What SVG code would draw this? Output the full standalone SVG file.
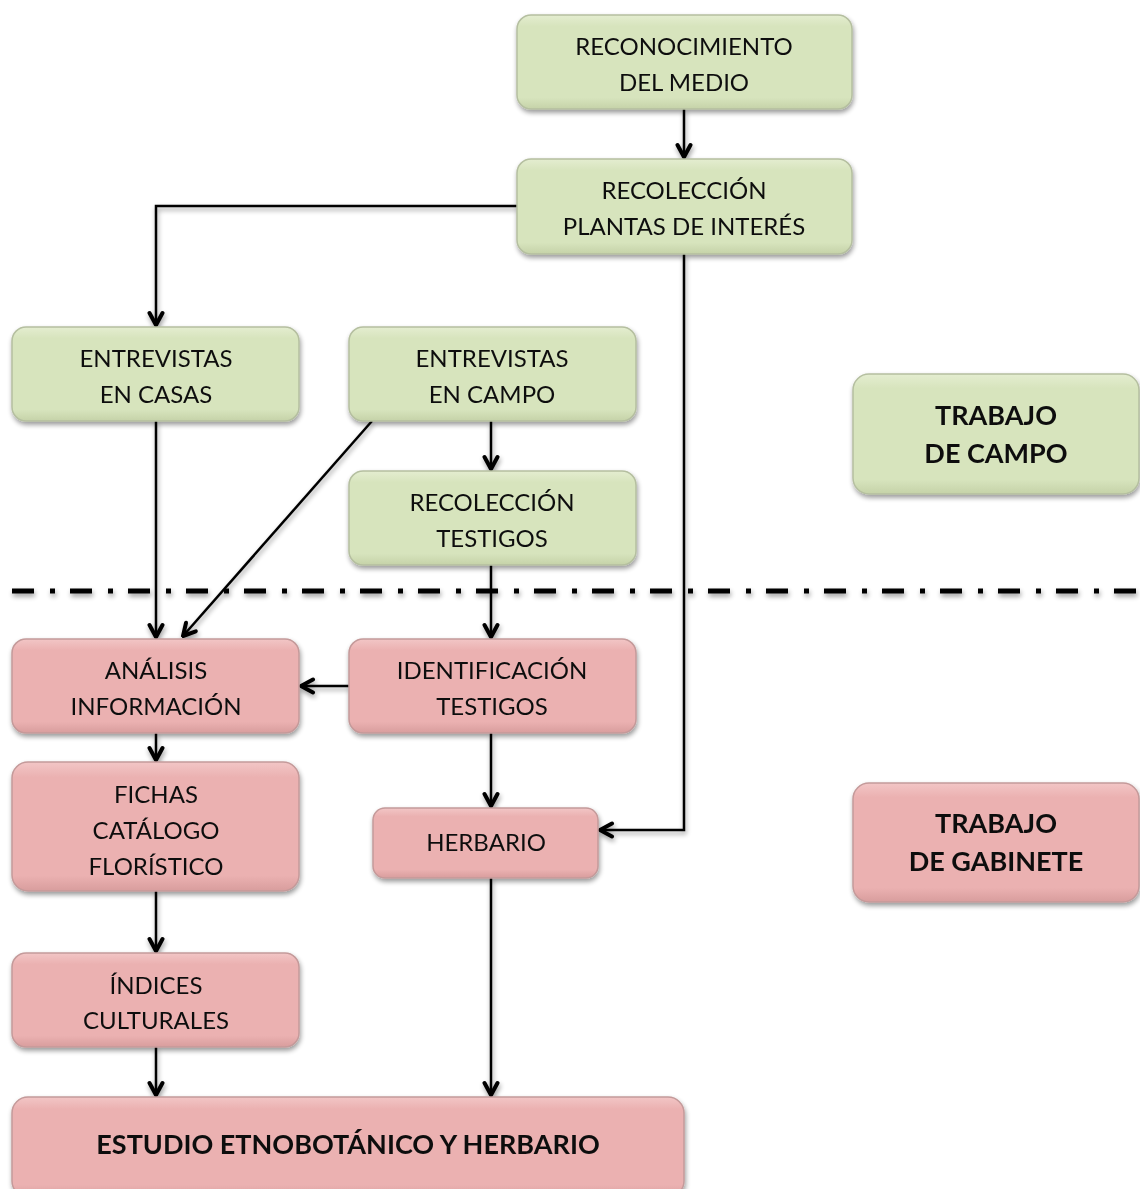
<svg xmlns="http://www.w3.org/2000/svg" width="1140" height="1189" viewBox="0 0 1140 1189">
<defs>
<style>
.g{fill:url(#gg);stroke:#b5bfa0;stroke-width:1.5}
.p{fill:url(#pg);stroke:#c49a9a;stroke-width:1.5}
text{font-family:"Lato","Liberation Sans",sans-serif;font-size:24px;fill:#111;text-anchor:middle}
.b{font-weight:bold;font-size:27px}
.c{fill:none;stroke:#000;stroke-width:2.5}
</style>
<linearGradient id="gg" x1="0" y1="0" x2="0" y2="1">
<stop offset="0" stop-color="#e4edd0"/><stop offset="0.12" stop-color="#d7e4bd"/><stop offset="0.88" stop-color="#d7e4bd"/><stop offset="1" stop-color="#c5d2a8"/>
</linearGradient>
<linearGradient id="pg" x1="0" y1="0" x2="0" y2="1">
<stop offset="0" stop-color="#f2c6c6"/><stop offset="0.12" stop-color="#ebb1b1"/><stop offset="0.88" stop-color="#ebb1b1"/><stop offset="1" stop-color="#d89d9d"/>
</linearGradient>
<filter id="sh" x="-10%" y="-10%" width="120%" height="130%">
<feGaussianBlur in="SourceAlpha" stdDeviation="2.5"/>
<feOffset dx="1" dy="3" result="o"/>
<feComponentTransfer><feFuncA type="linear" slope="0.4"/></feComponentTransfer>
<feMerge><feMergeNode/><feMergeNode in="SourceGraphic"/></feMerge>
</filter>
<marker id="a" viewBox="0 0 18 18" refX="16" refY="9" markerWidth="18" markerHeight="18" markerUnits="userSpaceOnUse" orient="auto">
<path d="M4,2.5 L16,9 L4,15.5" fill="none" stroke="#000" stroke-width="4" stroke-linecap="round" stroke-linejoin="round"/>
</marker>
</defs>
<rect width="1140" height="1189" fill="#fff"/>
<g id="connectors" filter="url(#sh)">
<line class="c" x1="684" y1="109" x2="684" y2="157" marker-end="url(#a)"/>
<polyline class="c" points="517,206 156,206 156,325" marker-end="url(#a)"/>
<polyline class="c" points="684,254 684,830 600,830" marker-end="url(#a)"/>
<line class="c" x1="156" y1="421" x2="156" y2="637" marker-end="url(#a)"/>
<line class="c" x1="372" y1="421" x2="183" y2="636" marker-end="url(#a)"/>
<line class="c" x1="491" y1="421" x2="491" y2="469" marker-end="url(#a)"/>
<line class="c" x1="491" y1="565" x2="491" y2="637" marker-end="url(#a)"/>
<line class="c" x1="349" y1="686" x2="301" y2="686" marker-end="url(#a)"/>
<line class="c" x1="156" y1="733" x2="156" y2="760" marker-end="url(#a)"/>
<line class="c" x1="491" y1="733" x2="491" y2="806" marker-end="url(#a)"/>
<line class="c" x1="156" y1="891" x2="156" y2="951" marker-end="url(#a)"/>
<line class="c" x1="156" y1="1047" x2="156" y2="1095" marker-end="url(#a)"/>
<line class="c" x1="491" y1="878" x2="491" y2="1095" marker-end="url(#a)"/>
<line x1="12" y1="591" x2="1140" y2="591" stroke="#000" stroke-width="5" stroke-dasharray="22 16 5 15"/>
</g>
<g id="n1" filter="url(#sh)"><rect class="g" x="517" y="15" width="335" height="94" rx="14"/><text x="684" y="55">RECONOCIMIENTO</text><text x="684" y="91">DEL MEDIO</text></g>
<g id="n2" filter="url(#sh)"><rect class="g" x="517" y="159" width="335" height="95" rx="14"/><text x="684" y="199">RECOLECCIÓN</text><text x="684" y="235">PLANTAS DE INTERÉS</text></g>
<g id="n3" filter="url(#sh)"><rect class="g" x="12" y="327" width="287" height="94" rx="14"/><text x="156" y="367">ENTREVISTAS</text><text x="156" y="403">EN CASAS</text></g>
<g id="n4" filter="url(#sh)"><rect class="g" x="349" y="327" width="287" height="94" rx="14"/><text x="492" y="367">ENTREVISTAS</text><text x="492" y="403">EN CAMPO</text></g>
<g id="n5" filter="url(#sh)"><rect class="g" x="349" y="471" width="287" height="94" rx="14"/><text x="492" y="511">RECOLECCIÓN</text><text x="492" y="547">TESTIGOS</text></g>
<g id="n6" filter="url(#sh)"><rect class="g" x="853" y="374" width="286" height="120" rx="16"/><text class="b" x="996" y="425">TRABAJO</text><text class="b" x="996" y="463">DE CAMPO</text></g>
<g id="n7" filter="url(#sh)"><rect class="p" x="12" y="639" width="287" height="94" rx="14"/><text x="156" y="679">ANÁLISIS</text><text x="156" y="715">INFORMACIÓN</text></g>
<g id="n8" filter="url(#sh)"><rect class="p" x="349" y="639" width="287" height="94" rx="14"/><text x="492" y="679">IDENTIFICACIÓN</text><text x="492" y="715">TESTIGOS</text></g>
<g id="n9" filter="url(#sh)"><rect class="p" x="12" y="762" width="287" height="129" rx="16"/><text x="156" y="803">FICHAS</text><text x="156" y="839">CATÁLOGO</text><text x="156" y="875">FLORÍSTICO</text></g>
<g id="n10" filter="url(#sh)"><rect class="p" x="373" y="808" width="225" height="70" rx="12"/><text x="486" y="851">HERBARIO</text></g>
<g id="n11" filter="url(#sh)"><rect class="p" x="853" y="783" width="286" height="119" rx="16"/><text class="b" x="996" y="833">TRABAJO</text><text class="b" x="996" y="871">DE GABINETE</text></g>
<g id="n12" filter="url(#sh)"><rect class="p" x="12" y="953" width="287" height="94" rx="14"/><text x="156" y="994">ÍNDICES</text><text x="156" y="1029">CULTURALES</text></g>
<g id="n13" filter="url(#sh)"><rect class="p" x="12" y="1097" width="672" height="100" rx="16"/><text class="b" x="348" y="1154">ESTUDIO ETNOBOTÁNICO Y HERBARIO</text></g>
</svg>
